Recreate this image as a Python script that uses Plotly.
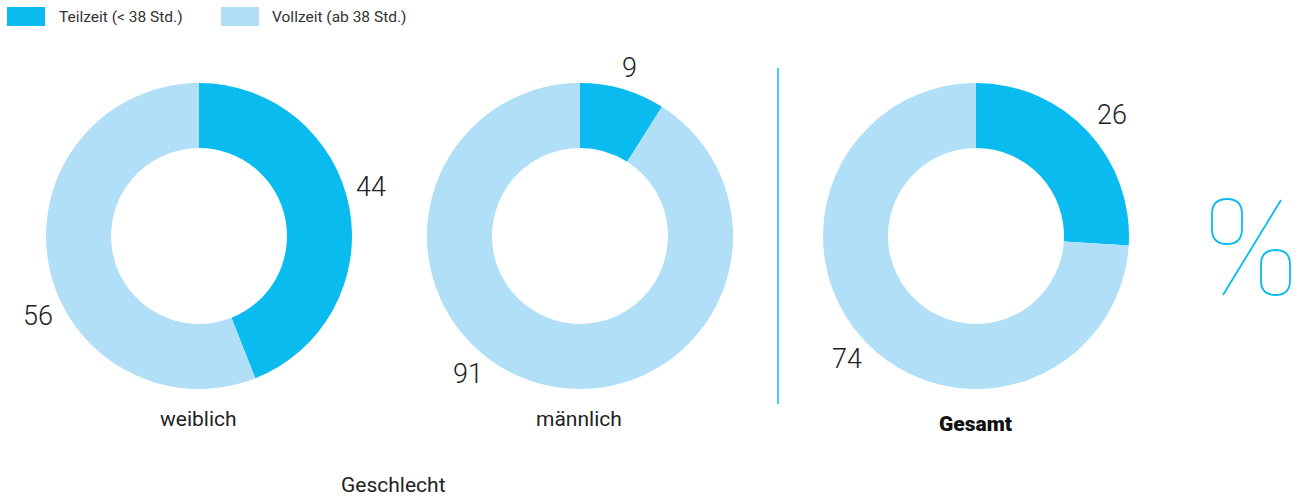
import plotly.graph_objects as go

W, H = 1306, 497

series_names = ["Teilzeit (< 38 Std.)", "Vollzeit (ab 38 Std.)"]
groups = ["weiblich", "männlich", "Gesamt"]
teilzeit = [44, 9, 26]
vollzeit = [56, 91, 74]
axis_title = "Geschlecht"

colors = ["#0ABBEF", "#B0DFF7"]
centers_x = [199, 580, 976]
center_y = 236
R = 153
hole = 0.575

def px(x):
    return x / W

def py(y):
    return 1 - y / H

fig = go.Figure()
for i, g in enumerate(groups):
    cx = centers_x[i]
    fig.add_trace(go.Pie(
        labels=series_names,
        values=[teilzeit[i], vollzeit[i]],
        hole=hole,
        sort=False,
        direction="clockwise",
        rotation=0,
        textinfo="none",
        hoverinfo="label+value",
        marker=dict(colors=colors, line=dict(width=0)),
        domain=dict(x=[px(cx - R), px(cx + R)], y=[py(center_y + R), py(center_y - R)]),
        showlegend=False,
        name=g,
    ))

# value label positions (pixel)
label_pos = [
    [(371, 187), (38, 316)],
    [(629, 68), (468, 374)],
    [(1112, 115), (847, 359)],
]
annotations = []
num_font = dict(family="Roboto, sans-serif", size=27, color="#222222", weight=300)
for i in range(3):
    vals = [teilzeit[i], vollzeit[i]]
    for j in range(2):
        x, y = label_pos[i][j]
        annotations.append(dict(x=px(x), y=py(y), xref="paper", yref="paper",
                                text=str(vals[j]), showarrow=False, font=num_font,
                                xanchor="center", yanchor="middle"))

cat_font = dict(family="Roboto, sans-serif", size=21, color="#222222")
cat_y = [419, 419, 424]
for i, g in enumerate(groups):
    f = dict(cat_font)
    if g == "Gesamt":
        f["weight"] = 900
        f["color"] = "#111111"
    annotations.append(dict(x=px(centers_x[i] - 1), y=py(cat_y[i]), xref="paper", yref="paper",
                            text=g, showarrow=False, font=f,
                            xanchor="center", yanchor="middle"))

annotations.append(dict(x=px(393), y=py(485), xref="paper", yref="paper", text=axis_title,
                        showarrow=False, font=cat_font,
                        xanchor="center", yanchor="middle"))

# legend (manual)
leg = [(7, 57), (221, 270)]
shapes = []
for j, (bx, tx) in enumerate(leg):
    shapes.append(dict(type="rect", xref="paper", yref="paper",
                       x0=px(bx), x1=px(bx + 38), y0=py(26), y1=py(7),
                       fillcolor=colors[j], line=dict(width=0)))
    annotations.append(dict(x=px(tx), y=py(17), xref="paper", yref="paper", text=series_names[j],
                            showarrow=False, font=dict(family="Roboto, sans-serif", size=15.5, color="#333333"),
                            xanchor="left", yanchor="middle"))

# vertical separator
shapes.append(dict(type="line", xref="paper", yref="paper", x0=px(778), x1=px(778),
                   y0=py(404), y1=py(68), line=dict(color="#0ABBEF", width=1.5)))

# percent sign decoration
def rounded(x0, y0, x1, y1):
    r = (x1 - x0) / 2
    X = lambda v: f"{px(v):.5f}"
    Y = lambda v: f"{py(v):.5f}"
    return (f"M {X(x0)},{Y(y0 + r)} Q {X(x0)},{Y(y0)} {X(x0 + r)},{Y(y0)} "
            f"Q {X(x1)},{Y(y0)} {X(x1)},{Y(y0 + r)} L {X(x1)},{Y(y1 - r)} "
            f"Q {X(x1)},{Y(y1)} {X(x0 + r)},{Y(y1)} Q {X(x0)},{Y(y1)} {X(x0)},{Y(y1 - r)} Z")

pc = "#0ABBEF"
shapes.append(dict(type="path", xref="paper", yref="paper", path=rounded(1212, 199, 1242, 244),
                   line=dict(color=pc, width=1.8)))
shapes.append(dict(type="path", xref="paper", yref="paper", path=rounded(1261, 250, 1290, 295),
                   line=dict(color=pc, width=1.8)))
shapes.append(dict(type="line", xref="paper", yref="paper", x0=px(1281), y0=py(200),
                   x1=px(1223), y1=py(295), line=dict(color=pc, width=1.8)))

fig.update_layout(
    width=W, height=H,
    margin=dict(l=0, r=0, t=0, b=0),
    paper_bgcolor="white", plot_bgcolor="white",
    annotations=annotations, shapes=shapes,
    showlegend=False,
)

fig.write_html("out.html", config=dict(displayModeBar=False),
               post_script="document.body.style.margin='0';document.body.style.overflow='hidden';")
